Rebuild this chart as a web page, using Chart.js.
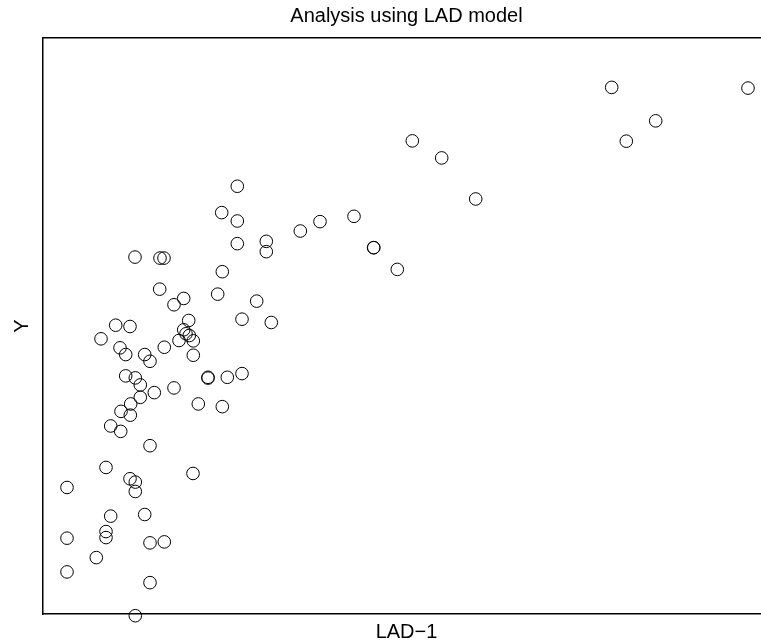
<!DOCTYPE html>
<html>
<head>
<meta charset="utf-8">
<script src="https://cdn.jsdelivr.net/npm/chart.js@4/dist/chart.umd.min.js"></script>
<style>
    html, body { margin: 0; padding: 0; background: #fff; overflow: hidden; }
    #wrap { position: relative; width: 800px; height: 644px; }
</style>
</head>
<body>
<div id="wrap"><canvas id="chart"></canvas></div>
<script>
// ==================== DATOS ====================
const chartTitle = 'Analysis using LAD model';
const xTitle = 'LAD\u22121';
const yTitle = 'Y';

const xValues = [
    568.7, 705, 612.7, 583.3, 369.3, 398.7, 432.7, 257.3, 277, 311,
    330.7, 330.7, 354.3, 194.3, 178.7, 194.3, 194.3, 223.3, 223.3, 92,
    117, 121, 179.3, 116.7, 140.7, 131, 174.7, 213.7, 199, 228.3,
    72.7, 87, 145.7, 140.7, 143, 146.3, 150.3, 136, 58, 77,
    82.7, 101.7, 107, 121.3, 150.3, 165, 165, 184.3, 199, 82.7,
    92.3, 97.3, 111.3, 131, 97.3, 87.7, 78, 87.3, 155.3, 179.3,
    67.7, 77.7, 107, 63, 150, 24, 87, 92.3, 92.3, 67.7,
    101.7, 63, 63, 24, 107, 121.3, 53.3, 24, 107, 92.3
];

const yValues = [
    525.7, 525, 492.3, 472, 472.3, 455.3, 414.3, 382.3, 391.7, 397,
    365.7, 365.7, 344, 427, 400.7, 392.3, 369.7, 372, 361.7, 356.3,
    355.3, 355.3, 341.7, 324.3, 315, 308.7, 319.3, 312.3, 294.3, 291,
    288.3, 287, 293, 283.7, 279.7, 278, 272.7, 273, 274.7, 265.7,
    259, 259, 252.3, 266.3, 258.3, 236.3, 235.5, 236.3, 240, 237.7,
    235.7, 228.7, 221, 225.7, 216.3, 209.7, 202.3, 198.5, 209.7, 207,
    187.7, 182.3, 168, 146.3, 140.3, 126.3, 135, 131.7, 122.3, 97.7,
    99.3, 82.3, 76.3, 75.7, 71, 72, 56.3, 42, 31.3, -1.7
];

const xMin = 0, xMax = 727;
const yMin = 0, yMax = 575;

// ==================== CHART ====================
const points = xValues.map((x, i) => ({ x: x, y: yValues[i] }));
const fontFamily = 'Liberation Sans, Arial, sans-serif';
const frame = { display: true, color: '#000', width: 1.5 };
const noTicks = { display: false, padding: 0 };
const noGrid = { display: false, drawTicks: false, tickLength: 0 };

const ctx = document.getElementById('chart').getContext('2d');

const chart = new Chart(ctx, {
    type: 'scatter',
    data: {
        datasets: [{
            data: points,
            pointStyle: 'circle',
            pointRadius: 6.3,
            pointBorderWidth: 1,
            pointBorderColor: '#000',
            pointBackgroundColor: 'rgba(0,0,0,0)',
            clip: false
        }]
    },
    options: {
        animation: false,
        responsive: true,
        maintainAspectRatio: false,
        layout: { padding: { left: 10, right: 30, top: 0, bottom: 0 } },
        plugins: {
            legend: { display: false },
            tooltip: { enabled: false },
            title: {
                display: true,
                text: chartTitle,
                fullSize: false,
                color: '#000',
                font: { family: fontFamily, size: 20, weight: 'normal' },
                padding: { top: 4, bottom: 10 }
            }
        },
        scales: {
            x: {
                type: 'linear',
                position: 'bottom',
                min: xMin,
                max: xMax,
                ticks: noTicks,
                grid: noGrid,
                border: frame,
                title: {
                    display: true,
                    text: xTitle,
                    color: '#000',
                    font: { family: fontFamily, size: 20 },
                    padding: { top: 6, bottom: 0 }
                }
            },
            xTop: {
                type: 'linear',
                position: 'top',
                min: xMin,
                max: xMax,
                ticks: noTicks,
                grid: noGrid,
                border: frame
            },
            y: {
                type: 'linear',
                min: yMin,
                max: yMax,
                ticks: noTicks,
                grid: noGrid,
                border: frame,
                title: {
                    display: true,
                    text: yTitle,
                    color: '#000',
                    font: { family: fontFamily, size: 20 },
                    padding: { top: 0, bottom: 9 }
                }
            }
        }
    }
});
</script>
</body>
</html>
